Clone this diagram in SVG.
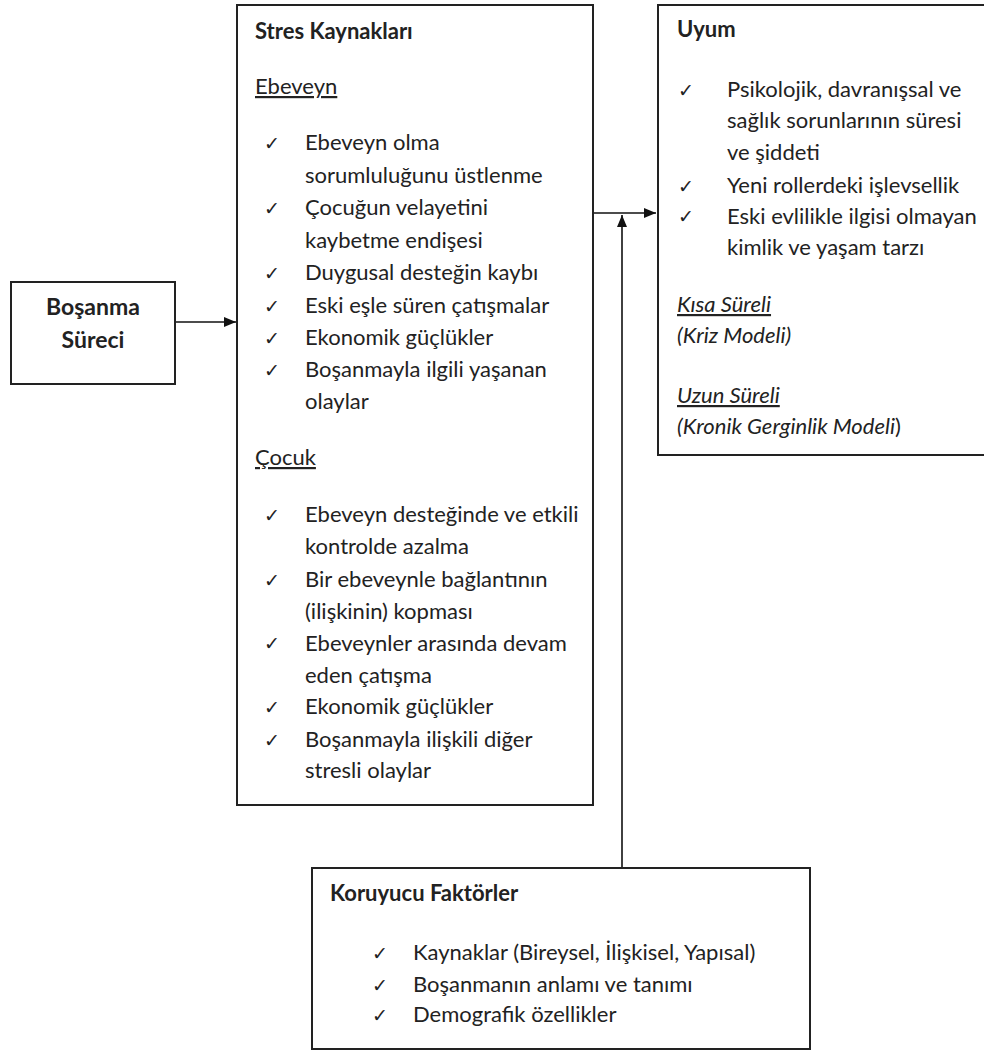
<svg xmlns="http://www.w3.org/2000/svg" width="984" height="1051" viewBox="0 0 984 1051">
<defs>
<marker id="ah" viewBox="0 0 12 10" refX="12" refY="5" markerWidth="12" markerHeight="10" markerUnits="userSpaceOnUse" orient="auto">
<path d="M0,0 L12,5 L0,10 Z" fill="#111"/>
</marker>
<style>
.box{fill:#fff;stroke:#222;stroke-width:2}
.t{font-family:Lato,"Liberation Sans",sans-serif;font-size:22px;fill:#222}
.b{font-weight:bold}
.u{text-decoration:underline}
.i{font-style:italic}
.big{font-size:23px}
.ck{font-family:"DejaVu Sans",sans-serif;font-size:19px;fill:#222}
.ln{stroke:#111;stroke-width:1.6;fill:none}
</style>
</defs>
<rect width="984" height="1051" fill="#fff"/>

<g id="connectors">
<line class="ln" x1="175" y1="322" x2="236" y2="322" marker-end="url(#ah)"/>
<line class="ln" x1="593" y1="213" x2="656" y2="213" marker-end="url(#ah)"/>
<line class="ln" x1="622" y1="868" x2="622" y2="215" marker-end="url(#ah)"/>
</g>

<g id="bosanma">
<rect class="box" x="11" y="282" width="164" height="102"/>
<text class="t b big" x="93" y="315" text-anchor="middle">Boşanma</text>
<text class="t b big" x="93" y="348" text-anchor="middle">Süreci</text>
</g>

<g id="stres">
<rect class="box" x="237" y="5" width="356" height="800"/>
<text class="t b" x="255" y="39">Stres Kaynakları</text>
<text class="t u" x="255" y="94">Ebeveyn</text>
<g class="ck">
<text x="264" y="150">✓</text>
<text x="264" y="215">✓</text>
<text x="264" y="280">✓</text>
<text x="264" y="313">✓</text>
<text x="264" y="345">✓</text>
<text x="264" y="377">✓</text>
</g>
<text class="t" x="305" y="150">Ebeveyn olma</text>
<text class="t" x="305" y="183">sorumluluğunu üstlenme</text>
<text class="t" x="305" y="215">Çocuğun velayetini</text>
<text class="t" x="305" y="248">kaybetme endişesi</text>
<text class="t" x="305" y="280">Duygusal desteğin kaybı</text>
<text class="t" x="305" y="313">Eski eşle süren çatışmalar</text>
<text class="t" x="305" y="345">Ekonomik güçlükler</text>
<text class="t" x="305" y="377">Boşanmayla ilgili yaşanan</text>
<text class="t" x="305" y="409">olaylar</text>
<text class="t u" x="255" y="465">Çocuk</text>
<g class="ck">
<text x="264" y="522">✓</text>
<text x="264" y="587">✓</text>
<text x="264" y="650">✓</text>
<text x="264" y="714">✓</text>
<text x="264" y="747">✓</text>
</g>
<text class="t" x="305" y="522">Ebeveyn desteğinde ve etkili</text>
<text class="t" x="305" y="554">kontrolde azalma</text>
<text class="t" x="305" y="587">Bir ebeveynle bağlantının</text>
<text class="t" x="305" y="619">(ilişkinin) kopması</text>
<text class="t" x="305" y="651">Ebeveynler arasında devam</text>
<text class="t" x="305" y="683">eden çatışma</text>
<text class="t" x="305" y="714">Ekonomik güçlükler</text>
<text class="t" x="305" y="747">Boşanmayla ilişkili diğer</text>
<text class="t" x="305" y="778">stresli olaylar</text>
</g>

<g id="uyum">
<rect class="box" x="658" y="5" width="340" height="450"/>
<text class="t b" x="677" y="37">Uyum</text>
<g class="ck">
<text x="678" y="97">✓</text>
<text x="678" y="193">✓</text>
<text x="678" y="223">✓</text>
</g>
<text class="t" x="727" y="97">Psikolojik, davranışsal ve</text>
<text class="t" x="727" y="128">sağlık sorunlarının süresi</text>
<text class="t" x="727" y="160">ve şiddeti</text>
<text class="t" x="727" y="193">Yeni rollerdeki işlevsellik</text>
<text class="t" x="727" y="224">Eski evlilikle ilgisi olmayan</text>
<text class="t" x="727" y="255">kimlik ve yaşam tarzı</text>
<text class="t i u" x="677" y="312">Kısa Süreli</text>
<text class="t i" x="677" y="343">(Kriz Modeli)</text>
<text class="t i u" x="677" y="403">Uzun Süreli</text>
<text class="t" x="677" y="434"><tspan class="i">(Kronik Gerginlik Modeli</tspan>)</text>
</g>

<g id="koruyucu">
<rect class="box" x="312" y="868" width="498" height="181"/>
<text class="t b" x="330" y="901">Koruyucu Faktörler</text>
<g class="ck">
<text x="372" y="960">✓</text>
<text x="372" y="992">✓</text>
<text x="372" y="1022">✓</text>
</g>
<text class="t" x="413" y="960">Kaynaklar (Bireysel, İlişkisel, Yapısal)</text>
<text class="t" x="413" y="992">Boşanmanın anlamı ve tanımı</text>
<text class="t" x="413" y="1022">Demografik özellikler</text>
</g>
</svg>
